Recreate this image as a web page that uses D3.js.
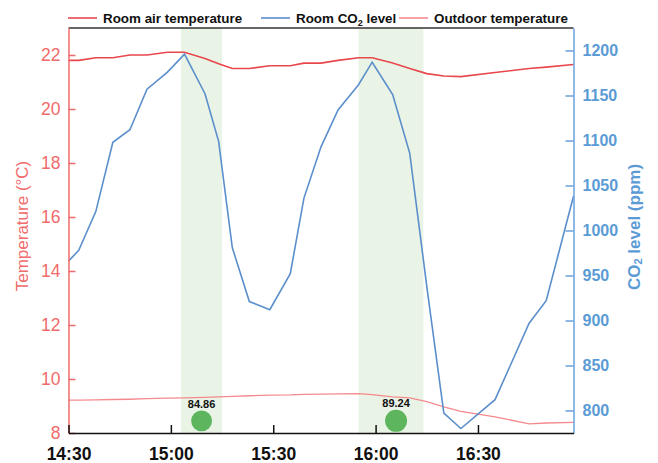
<!DOCTYPE html>
<html>
<head>
<meta charset="utf-8">
<script src="https://cdn.jsdelivr.net/npm/d3@7"></script>
<style>
  body { margin: 0; background: #fff; }
  text { font-family: "Liberation Sans", Arial, sans-serif; }
</style>
</head>
<body>
<svg width="658" height="463"></svg>
<script>
// sample times
const times = ["14:30", "14:33", "14:38", "14:43", "14:48", "14:53", "14:59", "15:04", "15:10", "15:14",
  "15:18", "15:23", "15:29", "15:35", "15:39", "15:44", "15:49", "15:55", "15:59", "16:05",
  "16:10", "16:15", "16:20", "16:25", "16:35", "16:45", "16:50", "16:58"];
const roomTemp = [21.8, 21.8, 21.9, 21.9, 22.0, 22.0, 22.1, 22.1, 21.87, 21.68,
  21.5, 21.5, 21.6, 21.6, 21.7, 21.7, 21.8, 21.9, 21.9, 21.7,
  21.5, 21.31, 21.22, 21.2, 21.35, 21.5, 21.55, 21.65];
const co2 = [966, 978, 1021, 1098, 1112, 1157, 1176, 1196, 1152, 1099,
  981, 921, 912, 952, 1036, 1093, 1134, 1162, 1187, 1151,
  1086, 938, 797, 780, 812, 897, 922, 1038];
const outdoorTemp = [9.22, 9.22, 9.23, 9.24, 9.25, 9.27, 9.29, 9.30, 9.32, 9.34,
  9.36, 9.38, 9.40, 9.41, 9.43, 9.44, 9.45, 9.46, 9.42, 9.34,
  9.30, 9.16, 8.97, 8.80, 8.60, 8.34, 8.37, 8.39];

const bandStart = ["15:03", "15:55"];
const bandEnd = ["15:15", "16:14"];
const markTimes = ["15:09", "16:06"];
const markValues = [84.86, 89.24];
const markLevel = 8.45;

const seriesNames = ["Room air temperature", "Room CO2 level", "Outdoor temperature"];
const tempTicks = [8, 10, 12, 14, 16, 18, 20, 22];
const co2Ticks = [800, 850, 900, 950, 1000, 1050, 1100, 1150, 1200];
const timeTicks = ["14:30", "15:00", "15:30", "16:00", "16:30"];
const timeMinor = ["14:45", "15:15", "15:45", "16:15", "16:45"];

const red = "#e8474c", pink = "#f58a8e", blue = "#5b8fcb";
const leftCol = "#f06b6b", rightCol = "#6aa2dc", rightText = "#5b9bd5";

const parse = d3.timeParse("%H:%M");
const svg = d3.select("svg");

const x = d3.scaleTime().domain([parse("14:30"), parse("16:58")]).range([68.5, 573.5]);
const yT = d3.scaleLinear().domain([8, 23]).range([433, 28]);
const yC = d3.scaleLinear().domain([775, 1225]).range([433, 28]);
const rScale = d3.scaleLinear().domain([0, 89.24]).range([0, 11]);

// shaded periods
svg.append("g").selectAll("rect").data(bandStart).enter().append("rect")
  .attr("x", d => x(parse(d)))
  .attr("y", yT(23))
  .attr("width", (d, i) => x(parse(bandEnd[i])) - x(parse(d)))
  .attr("height", yT(8) - yT(23))
  .attr("fill", "#e9f3e6");

// lines
const pts = times.map((t, i) => ({ t: parse(t), room: roomTemp[i], co2: co2[i], out: outdoorTemp[i] }));

svg.append("path").datum(pts)
  .attr("fill", "none").attr("stroke", pink).attr("stroke-width", 1.3)
  .attr("d", d3.line().x(d => x(d.t)).y(d => yT(d.out)));

svg.append("path").datum(pts)
  .attr("fill", "none").attr("stroke", blue).attr("stroke-width", 1.6)
  .attr("d", d3.line().x(d => x(d.t)).y(d => yC(d.co2)));

svg.append("path").datum(pts)
  .attr("fill", "none").attr("stroke", red).attr("stroke-width", 1.6)
  .attr("d", d3.line().x(d => x(d.t)).y(d => yT(d.room)));

// markers
const marks = svg.append("g");
marks.selectAll("circle").data(markValues).enter().append("circle")
  .attr("cx", (d, i) => x(parse(markTimes[i])))
  .attr("cy", yT(markLevel))
  .attr("r", d => rScale(d))
  .attr("fill", "#5db55d");
marks.selectAll("text").data(markValues).enter().append("text")
  .attr("x", (d, i) => x(parse(markTimes[i])))
  .attr("y", d => yT(markLevel) - rScale(d) - 2.5)
  .attr("text-anchor", "middle")
  .attr("font-weight", 700)
  .style("font-size", "11px")
  .attr("fill", "#111")
  .text(d => d3.format(".2f")(d));

// top border
svg.append("line")
  .attr("x1", 68.5).attr("x2", 573.5).attr("y1", 28).attr("y2", 28)
  .attr("stroke", "#333").attr("stroke-width", 1.5);

// left axis
const gl = svg.append("g").attr("transform", "translate(68.5,0)");
gl.call(d3.axisLeft(yT).tickValues(d3.range(9, 23, 2)).tickSizeInner(-4).tickSizeOuter(0).tickFormat(""));
gl.call(d3.axisLeft(yT).tickValues(tempTicks).tickSizeInner(-7).tickSizeOuter(0).tickPadding(8));
gl.selectAll("path, line").attr("stroke", leftCol).attr("stroke-width", 1.5);
gl.selectAll("text").attr("fill", leftCol).style("font-size", "17.5px");

// right axis
const gr = svg.append("g").attr("transform", "translate(573.5,0)");
gr.call(d3.axisRight(yC).tickValues(d3.range(825, 1200, 50)).tickSizeInner(-4).tickSizeOuter(0).tickFormat(""));
gr.call(d3.axisRight(yC).tickValues(co2Ticks).tickSizeInner(-8).tickSizeOuter(0).tickPadding(9)
  .tickFormat(d3.format("d")));
gr.selectAll("path, line").attr("stroke", rightCol).attr("stroke-width", 1.5);
gr.selectAll("text").attr("fill", rightText).attr("font-weight", 700).style("font-size", "16px");

// bottom axis
const gb = svg.append("g").attr("transform", "translate(0,433)");
gb.call(d3.axisBottom(x).tickValues(timeMinor.map(parse)).tickSizeInner(-4).tickSizeOuter(0).tickFormat(""));
gb.call(d3.axisBottom(x).tickValues(timeTicks.map(parse)).tickSizeInner(-8).tickSizeOuter(0)
  .tickPadding(15).tickFormat(d3.timeFormat("%H:%M")));
gb.selectAll("path, line").attr("stroke", "#111").attr("stroke-width", 1.5);
gb.selectAll("text").attr("fill", "#111").attr("font-weight", 700).style("font-size", "17.5px");

// axis titles
svg.append("text")
  .attr("transform", "translate(22,226) rotate(-90)")
  .attr("text-anchor", "middle")
  .attr("dominant-baseline", "central")
  .attr("fill", leftCol)
  .style("font-size", "17px")
  .text("Temperature (\u00B0C)");

const rt = svg.append("text")
  .attr("transform", "translate(634,227) rotate(-90)")
  .attr("text-anchor", "middle")
  .attr("dominant-baseline", "central")
  .attr("fill", rightText)
  .attr("font-weight", 700)
  .style("font-size", "17px");
rt.append("tspan").text("CO");
rt.append("tspan").attr("dy", 4).style("font-size", "11px").text("2");
rt.append("tspan").attr("dy", -4).text(" level (ppm)");

// legend
const legX = [68, 261, 399];
const legCol = [red, blue, pink];
const leg = svg.append("g");
seriesNames.forEach((name, i) => {
  const g = leg.append("g").attr("transform", "translate(" + legX[i] + ",18)");
  g.append("line").attr("x1", 0).attr("x2", 29).attr("y1", 0).attr("y2", 0)
    .attr("stroke", legCol[i]).attr("stroke-width", 1.6);
  const t = g.append("text")
    .attr("x", 35).attr("y", 5)
    .attr("font-weight", 700)
    .attr("fill", "#111")
    .style("font-size", "13.4px");
  if (name.indexOf("CO2") >= 0) {
    t.append("tspan").text("Room CO");
    t.append("tspan").attr("dy", 3).style("font-size", "9px").text("2");
    t.append("tspan").attr("dy", -3).text(" level");
  } else {
    t.text(name);
  }
});
</script>
</body>
</html>
